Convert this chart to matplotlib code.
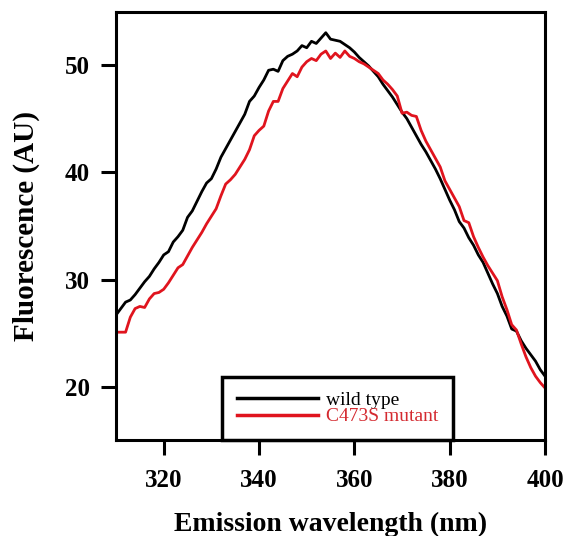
import numpy as np
import matplotlib
matplotlib.use("Agg")
import matplotlib.pyplot as plt

plt.rcParams['font.family'] = ['Liberation Serif', 'DejaVu Serif']

# emission wavelength (nm), 1 nm steps
wavelength = np.arange(310, 401)

# wild type fluorescence (AU)
wild_type = [
    26.7, 27.3, 27.9, 28.1, 28.6, 29.2, 29.8, 30.3, 31.0, 31.6,
    32.3, 32.6, 33.5, 34.0, 34.6, 35.8, 36.4, 37.3, 38.2, 39.0,
    39.4, 40.3, 41.4, 42.2, 43.0, 43.8, 44.6, 45.4, 46.6, 47.1,
    47.9, 48.6, 49.5, 49.6, 49.4, 50.4, 50.8, 51.0, 51.3, 51.8,
    51.6, 52.2, 52.0, 52.5, 53.0, 52.4, 52.3, 52.2, 51.9, 51.6,
    51.2, 50.7, 50.3, 49.9, 49.4, 48.9, 48.2, 47.6, 47.0, 46.3,
    45.6, 45.0, 44.2, 43.4, 42.6, 41.9, 41.1, 40.3, 39.4, 38.4,
    37.4, 36.5, 35.4, 34.8, 33.9, 33.2, 32.3, 31.6, 30.6, 29.6,
    28.7, 27.5, 26.6, 25.4, 25.2, 24.3, 23.6, 23.0, 22.4, 21.6,
    21.0,
]

# C473S mutant fluorescence (AU)
c473s = [
    25.1, 25.1, 25.1, 26.5, 27.3, 27.5, 27.4, 28.2, 28.7, 28.8,
    29.1, 29.7, 30.4, 31.1, 31.4, 32.2, 33.0, 33.7, 34.4, 35.2,
    35.9, 36.6, 37.8, 38.9, 39.3, 39.8, 40.5, 41.2, 42.1, 43.4,
    43.9, 44.3, 45.7, 46.6, 46.6, 47.8, 48.5, 49.2, 48.9, 49.8,
    50.3, 50.6, 50.4, 51.0, 51.3, 50.6, 51.1, 50.7, 51.3, 50.8,
    50.6, 50.3, 50.1, 49.8, 49.5, 49.2, 48.6, 48.2, 47.7, 47.1,
    45.5, 45.6, 45.3, 45.2, 43.9, 42.9, 42.1, 41.3, 40.5, 39.2,
    38.4, 37.6, 36.8, 35.5, 35.3, 34.0, 33.0, 32.1, 31.3, 30.6,
    29.9, 28.4, 27.2, 25.8, 25.3, 24.0, 22.8, 21.8, 21.0, 20.4,
    19.9,
]

x_ticks = [320, 340, 360, 380, 400]
y_ticks = [20, 30, 40, 50]

fig = plt.figure(figsize=(5.66, 5.36), dpi=100)
ax = fig.add_axes([0.205, 0.179, 0.758, 0.799])

ax.plot(wavelength, wild_type, color='black', lw=2.0, label='wild type')
ax.plot(wavelength, c473s, color='#e0141e', lw=2.0, label='C473S mutant')

ax.set_xlim(310, 400)
ax.set_ylim(15.05, 54.95)
ax.set_xticks(x_ticks)
ax.set_yticks(y_ticks)

for s in ax.spines.values():
    s.set_linewidth(2.2)
ax.tick_params(direction='out', length=11, width=2.2, labelsize=18)
ax.tick_params(axis='x', pad=10)
ax.tick_params(axis='y', pad=8)
for lab in ax.get_xticklabels() + ax.get_yticklabels():
    lab.set_fontweight('bold')

ax.set_xlabel('Emission wavelength (nm)', fontsize=20, fontweight='bold', labelpad=14)
ax.set_ylabel('Fluorescence (AU)', fontsize=21, fontweight='bold', labelpad=18)

leg = ax.legend(loc='lower left', bbox_to_anchor=(0.247, 0.0), borderaxespad=0,
                fontsize=14, fancybox=False, framealpha=1, edgecolor='black',
                handlelength=4.2, handletextpad=0.4, borderpad=0.75,
                labelspacing=-0.05)
leg.get_frame().set_linewidth(2.5)
leg.get_texts()[1].set_color('#d42a30')
for h in leg.get_lines():
    h.set_linewidth(2.5)

fig.savefig('out.png', dpi=100)
